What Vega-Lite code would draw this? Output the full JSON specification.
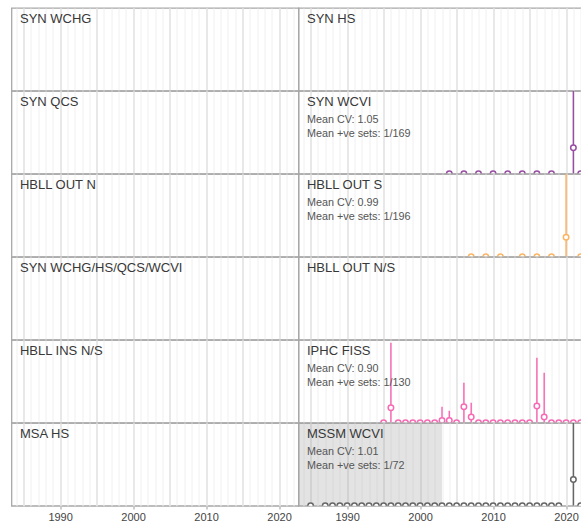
{
  "$schema": "https://vega.github.io/schema/vega-lite/v6.json",
  "padding": {"left": 10.5, "top": 7, "right": 0, "bottom": 0},
  "background": "white",
  "bounds": "flush",
  "datasets": {
    "panels": [
      {"panel": "SYN WCHG", "r": 1, "c": 1},
      {"panel": "SYN HS", "r": 1, "c": 2},
      {"panel": "SYN QCS", "r": 2, "c": 1},
      {"panel": "SYN WCVI", "r": 2, "c": 2},
      {"panel": "HBLL OUT N", "r": 3, "c": 1},
      {"panel": "HBLL OUT S", "r": 3, "c": 2},
      {"panel": "SYN WCHG/HS/QCS/WCVI", "r": 4, "c": 1},
      {"panel": "HBLL OUT N/S", "r": 4, "c": 2},
      {"panel": "HBLL INS N/S", "r": 5, "c": 1},
      {"panel": "IPHC FISS", "r": 5, "c": 2},
      {"panel": "MSA HS", "r": 6, "c": 1},
      {"panel": "MSSM WCVI", "r": 6, "c": 2}
    ]
  },
  "data": {"values": [
    {"kind": "label", "panel": "SYN WCHG", "title": "SYN WCHG"},
    {"kind": "label", "panel": "SYN HS", "title": "SYN HS"},
    {"kind": "label", "panel": "SYN QCS", "title": "SYN QCS"},
    {"kind": "label", "panel": "SYN WCVI", "title": "SYN WCVI", "cv": "Mean CV: 1.05", "sets": "Mean +ve sets: 1/169"},
    {"kind": "label", "panel": "HBLL OUT N", "title": "HBLL OUT N"},
    {"kind": "label", "panel": "HBLL OUT S", "title": "HBLL OUT S", "cv": "Mean CV: 0.99", "sets": "Mean +ve sets: 1/196"},
    {"kind": "label", "panel": "SYN WCHG/HS/QCS/WCVI", "title": "SYN WCHG/HS/QCS/WCVI"},
    {"kind": "label", "panel": "HBLL OUT N/S", "title": "HBLL OUT N/S"},
    {"kind": "label", "panel": "HBLL INS N/S", "title": "HBLL INS N/S"},
    {"kind": "label", "panel": "IPHC FISS", "title": "IPHC FISS", "cv": "Mean CV: 0.90", "sets": "Mean +ve sets: 1/130"},
    {"kind": "label", "panel": "MSA HS", "title": "MSA HS"},
    {"kind": "label", "panel": "MSSM WCVI", "title": "MSSM WCVI", "cv": "Mean CV: 1.01", "sets": "Mean +ve sets: 1/72"},
    {"kind": "shade", "panel": "MSSM WCVI", "start": 1983.34, "end": 2003},

    {"kind": "pt", "panel": "SYN WCVI", "color": "#984EA3", "year": 2004, "est": 0, "lwr": 0, "upr": 0},
    {"kind": "pt", "panel": "SYN WCVI", "color": "#984EA3", "year": 2006, "est": 0, "lwr": 0, "upr": 0},
    {"kind": "pt", "panel": "SYN WCVI", "color": "#984EA3", "year": 2008, "est": 0, "lwr": 0, "upr": 0},
    {"kind": "pt", "panel": "SYN WCVI", "color": "#984EA3", "year": 2010, "est": 0, "lwr": 0, "upr": 0},
    {"kind": "pt", "panel": "SYN WCVI", "color": "#984EA3", "year": 2012, "est": 0, "lwr": 0, "upr": 0},
    {"kind": "pt", "panel": "SYN WCVI", "color": "#984EA3", "year": 2014, "est": 0, "lwr": 0, "upr": 0},
    {"kind": "pt", "panel": "SYN WCVI", "color": "#984EA3", "year": 2016, "est": 0, "lwr": 0, "upr": 0},
    {"kind": "pt", "panel": "SYN WCVI", "color": "#984EA3", "year": 2018, "est": 0, "lwr": 0, "upr": 0},
    {"kind": "pt", "panel": "SYN WCVI", "color": "#984EA3", "year": 2021, "est": 0.314, "lwr": 0, "upr": 1.3},
    {"kind": "pt", "panel": "SYN WCVI", "color": "#984EA3", "year": 2022, "est": 0, "lwr": 0, "upr": 0},

    {"kind": "pt", "panel": "HBLL OUT S", "color": "#FDB462", "year": 2007, "est": 0, "lwr": 0, "upr": 0},
    {"kind": "pt", "panel": "HBLL OUT S", "color": "#FDB462", "year": 2009, "est": 0, "lwr": 0, "upr": 0},
    {"kind": "pt", "panel": "HBLL OUT S", "color": "#FDB462", "year": 2011, "est": 0, "lwr": 0, "upr": 0},
    {"kind": "pt", "panel": "HBLL OUT S", "color": "#FDB462", "year": 2014, "est": 0, "lwr": 0, "upr": 0},
    {"kind": "pt", "panel": "HBLL OUT S", "color": "#FDB462", "year": 2016, "est": 0, "lwr": 0, "upr": 0},
    {"kind": "pt", "panel": "HBLL OUT S", "color": "#FDB462", "year": 2018, "est": 0, "lwr": 0, "upr": 0},
    {"kind": "pt", "panel": "HBLL OUT S", "color": "#FDB462", "year": 2020, "est": 0.236, "lwr": 0, "upr": 1.3},
    {"kind": "pt", "panel": "HBLL OUT S", "color": "#FDB462", "year": 2022, "est": 0, "lwr": 0, "upr": 0},

    {"kind": "pt", "panel": "IPHC FISS", "color": "#F76BB4", "year": 1995, "est": 0, "lwr": 0, "upr": 0},
    {"kind": "pt", "panel": "IPHC FISS", "color": "#F76BB4", "year": 1996, "est": 0.181, "lwr": 0, "upr": 0.967},
    {"kind": "pt", "panel": "IPHC FISS", "color": "#F76BB4", "year": 1997, "est": 0, "lwr": 0, "upr": 0},
    {"kind": "pt", "panel": "IPHC FISS", "color": "#F76BB4", "year": 1998, "est": 0, "lwr": 0, "upr": 0},
    {"kind": "pt", "panel": "IPHC FISS", "color": "#F76BB4", "year": 1999, "est": 0, "lwr": 0, "upr": 0},
    {"kind": "pt", "panel": "IPHC FISS", "color": "#F76BB4", "year": 2000, "est": 0, "lwr": 0, "upr": 0},
    {"kind": "pt", "panel": "IPHC FISS", "color": "#F76BB4", "year": 2001, "est": 0, "lwr": 0, "upr": 0},
    {"kind": "pt", "panel": "IPHC FISS", "color": "#F76BB4", "year": 2002, "est": 0, "lwr": 0, "upr": 0},
    {"kind": "pt", "panel": "IPHC FISS", "color": "#F76BB4", "year": 2003, "est": 0.028, "lwr": 0, "upr": 0.193},
    {"kind": "pt", "panel": "IPHC FISS", "color": "#F76BB4", "year": 2004, "est": 0.028, "lwr": 0, "upr": 0.145},
    {"kind": "pt", "panel": "IPHC FISS", "color": "#F76BB4", "year": 2005, "est": 0, "lwr": 0, "upr": 0},
    {"kind": "pt", "panel": "IPHC FISS", "color": "#F76BB4", "year": 2006, "est": 0.193, "lwr": 0, "upr": 0.484},
    {"kind": "pt", "panel": "IPHC FISS", "color": "#F76BB4", "year": 2007, "est": 0.069, "lwr": 0, "upr": 0.242},
    {"kind": "pt", "panel": "IPHC FISS", "color": "#F76BB4", "year": 2008, "est": 0, "lwr": 0, "upr": 0},
    {"kind": "pt", "panel": "IPHC FISS", "color": "#F76BB4", "year": 2009, "est": 0, "lwr": 0, "upr": 0},
    {"kind": "pt", "panel": "IPHC FISS", "color": "#F76BB4", "year": 2010, "est": 0, "lwr": 0, "upr": 0},
    {"kind": "pt", "panel": "IPHC FISS", "color": "#F76BB4", "year": 2011, "est": 0, "lwr": 0, "upr": 0},
    {"kind": "pt", "panel": "IPHC FISS", "color": "#F76BB4", "year": 2012, "est": 0, "lwr": 0, "upr": 0},
    {"kind": "pt", "panel": "IPHC FISS", "color": "#F76BB4", "year": 2013, "est": 0, "lwr": 0, "upr": 0},
    {"kind": "pt", "panel": "IPHC FISS", "color": "#F76BB4", "year": 2014, "est": 0, "lwr": 0, "upr": 0},
    {"kind": "pt", "panel": "IPHC FISS", "color": "#F76BB4", "year": 2015, "est": 0, "lwr": 0, "upr": 0},
    {"kind": "pt", "panel": "IPHC FISS", "color": "#F76BB4", "year": 2016, "est": 0.202, "lwr": 0, "upr": 0.786},
    {"kind": "pt", "panel": "IPHC FISS", "color": "#F76BB4", "year": 2017, "est": 0.069, "lwr": 0, "upr": 0.605},
    {"kind": "pt", "panel": "IPHC FISS", "color": "#F76BB4", "year": 2018, "est": 0, "lwr": 0, "upr": 0},
    {"kind": "pt", "panel": "IPHC FISS", "color": "#F76BB4", "year": 2019, "est": 0, "lwr": 0, "upr": 0},
    {"kind": "pt", "panel": "IPHC FISS", "color": "#F76BB4", "year": 2020, "est": 0, "lwr": 0, "upr": 0},
    {"kind": "pt", "panel": "IPHC FISS", "color": "#F76BB4", "year": 2021, "est": 0, "lwr": 0, "upr": 0},
    {"kind": "pt", "panel": "IPHC FISS", "color": "#F76BB4", "year": 2022, "est": 0, "lwr": 0, "upr": 0},

    {"kind": "pt", "panel": "MSSM WCVI", "color": "#666666", "year": 1985, "est": 0, "lwr": 0, "upr": 0},
    {"kind": "pt", "panel": "MSSM WCVI", "color": "#666666", "year": 1987, "est": 0, "lwr": 0, "upr": 0},
    {"kind": "pt", "panel": "MSSM WCVI", "color": "#666666", "year": 1988, "est": 0, "lwr": 0, "upr": 0},
    {"kind": "pt", "panel": "MSSM WCVI", "color": "#666666", "year": 1989, "est": 0, "lwr": 0, "upr": 0},
    {"kind": "pt", "panel": "MSSM WCVI", "color": "#666666", "year": 1990, "est": 0, "lwr": 0, "upr": 0},
    {"kind": "pt", "panel": "MSSM WCVI", "color": "#666666", "year": 1991, "est": 0, "lwr": 0, "upr": 0},
    {"kind": "pt", "panel": "MSSM WCVI", "color": "#666666", "year": 1992, "est": 0, "lwr": 0, "upr": 0},
    {"kind": "pt", "panel": "MSSM WCVI", "color": "#666666", "year": 1993, "est": 0, "lwr": 0, "upr": 0},
    {"kind": "pt", "panel": "MSSM WCVI", "color": "#666666", "year": 1994, "est": 0, "lwr": 0, "upr": 0},
    {"kind": "pt", "panel": "MSSM WCVI", "color": "#666666", "year": 1995, "est": 0, "lwr": 0, "upr": 0},
    {"kind": "pt", "panel": "MSSM WCVI", "color": "#666666", "year": 1996, "est": 0, "lwr": 0, "upr": 0},
    {"kind": "pt", "panel": "MSSM WCVI", "color": "#666666", "year": 1997, "est": 0, "lwr": 0, "upr": 0},
    {"kind": "pt", "panel": "MSSM WCVI", "color": "#666666", "year": 1998, "est": 0, "lwr": 0, "upr": 0},
    {"kind": "pt", "panel": "MSSM WCVI", "color": "#666666", "year": 1999, "est": 0, "lwr": 0, "upr": 0},
    {"kind": "pt", "panel": "MSSM WCVI", "color": "#666666", "year": 2000, "est": 0, "lwr": 0, "upr": 0},
    {"kind": "pt", "panel": "MSSM WCVI", "color": "#666666", "year": 2001, "est": 0, "lwr": 0, "upr": 0},
    {"kind": "pt", "panel": "MSSM WCVI", "color": "#666666", "year": 2002, "est": 0, "lwr": 0, "upr": 0},
    {"kind": "pt", "panel": "MSSM WCVI", "color": "#666666", "year": 2003, "est": 0, "lwr": 0, "upr": 0},
    {"kind": "pt", "panel": "MSSM WCVI", "color": "#666666", "year": 2004, "est": 0, "lwr": 0, "upr": 0},
    {"kind": "pt", "panel": "MSSM WCVI", "color": "#666666", "year": 2005, "est": 0, "lwr": 0, "upr": 0},
    {"kind": "pt", "panel": "MSSM WCVI", "color": "#666666", "year": 2006, "est": 0, "lwr": 0, "upr": 0},
    {"kind": "pt", "panel": "MSSM WCVI", "color": "#666666", "year": 2007, "est": 0, "lwr": 0, "upr": 0},
    {"kind": "pt", "panel": "MSSM WCVI", "color": "#666666", "year": 2008, "est": 0, "lwr": 0, "upr": 0},
    {"kind": "pt", "panel": "MSSM WCVI", "color": "#666666", "year": 2009, "est": 0, "lwr": 0, "upr": 0},
    {"kind": "pt", "panel": "MSSM WCVI", "color": "#666666", "year": 2010, "est": 0, "lwr": 0, "upr": 0},
    {"kind": "pt", "panel": "MSSM WCVI", "color": "#666666", "year": 2011, "est": 0, "lwr": 0, "upr": 0},
    {"kind": "pt", "panel": "MSSM WCVI", "color": "#666666", "year": 2012, "est": 0, "lwr": 0, "upr": 0},
    {"kind": "pt", "panel": "MSSM WCVI", "color": "#666666", "year": 2013, "est": 0, "lwr": 0, "upr": 0},
    {"kind": "pt", "panel": "MSSM WCVI", "color": "#666666", "year": 2014, "est": 0, "lwr": 0, "upr": 0},
    {"kind": "pt", "panel": "MSSM WCVI", "color": "#666666", "year": 2015, "est": 0, "lwr": 0, "upr": 0},
    {"kind": "pt", "panel": "MSSM WCVI", "color": "#666666", "year": 2016, "est": 0, "lwr": 0, "upr": 0},
    {"kind": "pt", "panel": "MSSM WCVI", "color": "#666666", "year": 2017, "est": 0, "lwr": 0, "upr": 0},
    {"kind": "pt", "panel": "MSSM WCVI", "color": "#666666", "year": 2018, "est": 0, "lwr": 0, "upr": 0},
    {"kind": "pt", "panel": "MSSM WCVI", "color": "#666666", "year": 2019, "est": 0, "lwr": 0, "upr": 0},
    {"kind": "pt", "panel": "MSSM WCVI", "color": "#666666", "year": 2021, "est": 0.318, "lwr": 0, "upr": 1.3},
    {"kind": "pt", "panel": "MSSM WCVI", "color": "#666666", "year": 2022, "est": 0, "lwr": 0, "upr": 0}
  ]},
  "transform": [
    {"lookup": "panel", "from": {"data": {"name": "panels"}, "key": "panel", "fields": ["r", "c"]}}
  ],
  "facet": {
    "row": {"field": "r", "type": "ordinal", "header": null, "title": null},
    "column": {"field": "c", "type": "ordinal", "header": null, "title": null}
  },
  "spacing": 0,
  "spec": {
    "width": 287,
    "height": 82.8,
    "layer": [
      {
        "transform": [{"filter": "datum.kind === 'shade'"}],
        "mark": {"type": "rect", "fill": "#999999", "fillOpacity": 0.27, "clip": true},
        "encoding": {
          "x": {"field": "start", "type": "quantitative",
                "scale": {"domain": [1983.34, 2022.66], "nice": false, "zero": false},
                "axis": {"orient": "bottom", "values": [1983,1984,1985,1986,1987,1988,1989,1990,1991,1992,1993,1994,1995,1996,1997,1998,1999,2000,2001,2002,2003,2004,2005,2006,2007,2008,2009,2010,2011,2012,2013,2014,2015,2016,2017,2018,2019,2020,2021,2022],
                         "grid": true, "gridColor": "#f0f0f0", "gridWidth": 1, "gridOpacity": 1, "labels": false, "ticks": false, "domain": false, "title": null}},
          "x2": {"field": "end"}
        }
      },
      {
        "transform": [{"filter": "datum.kind === 'pt'"}],
        "mark": {"type": "rule", "strokeWidth": 1.5, "clip": true},
        "encoding": {
          "x": {"field": "year", "type": "quantitative",
                "axis": {"orient": "bottom", "values": [1985, 1990, 1995, 2000, 2005, 2010, 2015, 2020],
                         "grid": true, "gridColor": "#e3e3e3", "gridWidth": 1.5, "gridOpacity": 1, "labels": false, "ticks": false, "domain": false, "title": null}},
          "y": {"field": "lwr", "type": "quantitative", "scale": {"domain": [0, 1], "nice": false, "zero": false}, "axis": null},
          "y2": {"field": "upr"},
          "color": {"field": "color", "type": "nominal", "scale": null}
        }
      },
      {
        "transform": [{"filter": "datum.kind === 'pt'"}],
        "mark": {"type": "point", "shape": "circle", "filled": false, "fill": "white", "fillOpacity": 1, "size": 30, "strokeWidth": 1.5, "opacity": 1, "clip": true},
        "encoding": {
          "x": {"field": "year", "type": "quantitative",
                "axis": {"orient": "bottom", "values": [1990, 2000, 2010, 2020], "format": "d", "grid": false, "ticks": true, "tickSize": 3, "tickColor": "#999999",
                         "domain": false, "labelFontSize": 11, "labelColor": "#444444", "labelPadding": 2, "title": null}},
          "y": {"field": "est", "type": "quantitative", "axis": null},
          "color": {"field": "color", "type": "nominal", "scale": null}
        }
      },
      {
        "transform": [{"filter": "datum.kind === 'label'"}],
        "mark": {"type": "text", "align": "left", "baseline": "middle", "fontSize": 13, "color": "#383838"},
        "encoding": {
          "x": {"datum": 1984.5, "type": "quantitative", "axis": null},
          "y": {"datum": 0.862, "type": "quantitative", "axis": null},
          "text": {"field": "title"}
        }
      },
      {
        "transform": [{"filter": "datum.kind === 'label' && datum.cv"}],
        "mark": {"type": "text", "align": "left", "baseline": "middle", "fontSize": 10.8, "color": "#555555"},
        "encoding": {
          "x": {"datum": 1984.5, "type": "quantitative", "axis": null},
          "y": {"datum": 0.645, "type": "quantitative", "axis": null},
          "text": {"field": "cv"}
        }
      },
      {
        "transform": [{"filter": "datum.kind === 'label' && datum.sets"}],
        "mark": {"type": "text", "align": "left", "baseline": "middle", "fontSize": 10.8, "color": "#555555"},
        "encoding": {
          "x": {"datum": 1984.5, "type": "quantitative", "axis": null},
          "y": {"datum": 0.476, "type": "quantitative", "axis": null},
          "text": {"field": "sets"}
        }
      }
    ],
    "resolve": {"axis": {"x": "independent"}}
  },
  "config": {
    "font": "Liberation Sans",
    "view": {"stroke": "#a8a8a8", "strokeWidth": 1.3},
    "axis": {"labelFont": "Liberation Sans"}
  }
}
